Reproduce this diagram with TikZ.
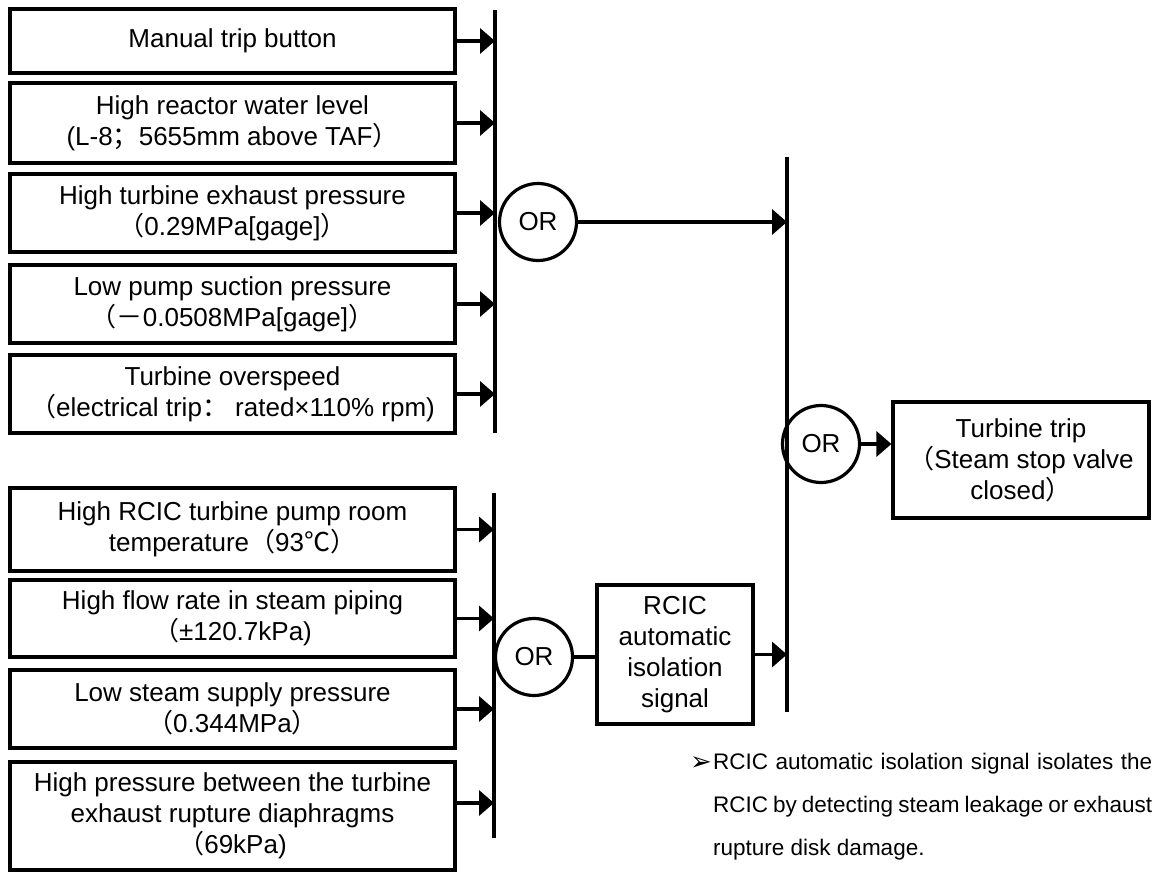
\documentclass[tikz,border=0pt]{standalone}
\usepackage{fontspec}
\setmainfont{Liberation Sans}
\newfontfamily\cjkfont{Noto Sans CJK SC}
\newfontfamily\symfont{DejaVu Sans}
\usetikzlibrary{arrows.meta}
\newcommand{\fw}[1]{{\cjkfont #1}}

\tikzset{
  cond/.style={draw, line width=3.8pt, minimum width=445pt, inner sep=0pt, align=center, font=\fontsize{26}{31}\selectfont},
  orgate/.style={draw, circle, line width=3.2pt, minimum size=77pt, inner sep=0pt, font=\fontsize{26}{31}\selectfont},
  outbox/.style={draw, line width=3.8pt, inner sep=0pt, align=center, font=\fontsize{26}{31}\selectfont},
  bus/.style={line width=3.5pt},
  sig/.style={line width=3.5pt, -{Triangle[length=15pt,width=25pt]}},
}

\begin{document}
\begin{tikzpicture}[x=1pt, y=-1pt]
\useasboundingbox (0,0) rectangle (1158,890);

\node[cond, minimum height=64pt] (c1) at (232.5,41) {Manual trip button};
\node[cond, minimum height=80pt] (c2) at (232.5,123) {High reactor water level\\(L-8\fw{；}5655mm above TAF\fw{）}};
\node[cond, minimum height=78pt] (c3) at (232.5,213) {High turbine exhaust pressure\\\fw{（}0.29MPa[gage]\fw{）}};
\node[cond, minimum height=78pt] (c4) at (232.5,304) {Low pump suction pressure\\\fw{（－}0.0508MPa[gage]\fw{）}};
\node[cond, minimum height=78pt] (c5) at (232.5,394) {Turbine overspeed\\\fw{（}electrical trip\fw{：} rated×110\% rpm)};

\node[cond, minimum height=83pt] (c6) at (232.5,529.5) {High RCIC turbine pump room\\temperature\fw{（}93\fw{℃）}};
\node[cond, minimum height=77pt] (c7) at (232.5,618.5) {High flow rate in steam piping\\\fw{（}±120.7kPa)};
\node[cond, minimum height=78pt] (c8) at (232.5,709) {Low steam supply pressure\\\fw{（}0.344MPa\fw{）}};
\node[cond, minimum height=108pt] (c9) at (232.5,816) {High pressure between the turbine\\exhaust rupture diaphragms\\\fw{（}69kPa)};

\coordinate (bus1t) at (495,10);
\coordinate (bus1b) at (495,433);
\coordinate (bus2t) at (494,493);
\coordinate (bus2b) at (494,838);
\coordinate (bus3t) at (787,157);
\coordinate (bus3b) at (787,712);
\draw[bus] (bus1t) -- (bus1b);
\draw[bus] (bus2t) -- (bus2b);
\draw[bus] (bus3t) -- (bus3b);

\foreach \n in {c1,c2,c3,c4,c5}
  \draw[sig] (\n.east) -- (\n.east -| bus1t);
\foreach \n in {c6,c7,c8}
  \draw[sig] (\n.east) -- (\n.east -| bus2t);
\draw[sig] ([yshift=13pt]c9.east) -- ([yshift=13pt]c9.east -| bus2t);

\node[orgate] (or1) at (538,222) {OR};
\node[orgate] (or2) at (534,657) {OR};
\node[orgate] (or3) at (821,444) {OR};

\node[outbox, minimum width=156pt, minimum height=139pt] (iso) at (675,654.5) {RCIC\\automatic\\isolation\\signal};
\node[outbox, line width=3.2pt, minimum width=256pt, minimum height=116pt] (trip) at (1021,460) {Turbine trip\\\fw{（}Steam stop valve\\closed\fw{）}};

\draw[sig] (or1.east) -- (or1.east -| bus3t);
\draw[bus] (or2.east) -- (or2.east -| iso.west);
\draw[sig] (iso.east) -- (iso.east -| bus3t);
\draw[sig] (or3.east) -- (or3.east -| trip.west);

\node[font=\symfont\fontsize{26}{26}\selectfont] (mark) at (701,764) {➢};
\node[anchor=north west, inner sep=0pt, text width=439pt, align=justify, font=\fontsize{22.5}{43}\selectfont] (note) at (713,753)
  {RCIC automatic isolation signal isolates the\linebreak RCIC by detecting steam leakage or exhaust\linebreak rupture disk damage.};
\end{tikzpicture}
\end{document}
